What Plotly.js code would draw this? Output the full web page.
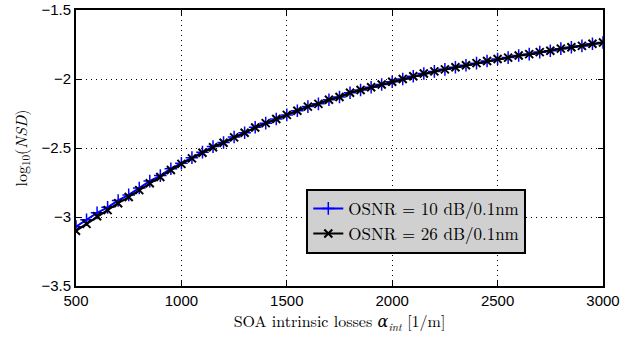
<!DOCTYPE html>
<html>
<head>
<meta charset="utf-8">
<script src="https://cdn.plot.ly/plotly-3.0.1.min.js"></script>
<style>html,body{margin:0;padding:0;background:#fff;}#chart{width:622px;height:341px;}</style>
</head>
<body>
<div id="chart"></div>
<script>
var alphaInt = [500,550,600,650,700,750,800,850,900,950,1000,1050,1100,1150,1200,1250,1300,1350,1400,1450,1500,1550,1600,1650,1700,1750,1800,1850,1900,1950,2000,2050,2100,2150,2200,2250,2300,2350,2400,2450,2500,2550,2600,2650,2700,2750,2800,2850,2900,2950,3000];
var nsdOsnr10 = [-3.07,-3.02,-2.97,-2.93,-2.88,-2.84,-2.79,-2.74,-2.70,-2.65,-2.61,-2.57,-2.53,-2.49,-2.46,-2.42,-2.39,-2.35,-2.32,-2.29,-2.26,-2.23,-2.20,-2.18,-2.15,-2.13,-2.10,-2.08,-2.06,-2.04,-2.02,-2.00,-1.98,-1.96,-1.945,-1.93,-1.915,-1.90,-1.885,-1.87,-1.855,-1.845,-1.83,-1.82,-1.805,-1.795,-1.78,-1.77,-1.76,-1.745,-1.735];
var nsdOsnr26 = [-3.10,-3.05,-2.995,-2.95,-2.90,-2.855,-2.805,-2.755,-2.71,-2.66,-2.615,-2.575,-2.535,-2.495,-2.462,-2.423,-2.39,-2.352,-2.32,-2.29,-2.26,-2.23,-2.20,-2.18,-2.15,-2.13,-2.10,-2.08,-2.06,-2.04,-2.02,-2.00,-1.98,-1.96,-1.945,-1.93,-1.915,-1.90,-1.885,-1.87,-1.855,-1.845,-1.83,-1.82,-1.805,-1.795,-1.78,-1.77,-1.76,-1.745,-1.735];
var seriesNames = ['OSNR = 10 dB/0.1nm', 'OSNR = 26 dB/0.1nm'];
var xTicks = [500,1000,1500,2000,2500,3000];
var yTicks = [-3.5,-3,-2.5,-2,-1.5];

var traces = [
  {x: alphaInt, y: nsdOsnr10, name: seriesNames[0], mode: 'lines+markers',
   line: {color: '#0000ff', width: 2},
   marker: {symbol: 'cross-thin', size: 9, line: {color: '#0000ff', width: 1.5}}},
  {x: alphaInt, y: nsdOsnr26, name: seriesNames[1], mode: 'lines+markers',
   line: {color: '#000000', width: 2},
   marker: {symbol: 'x-thin', size: 8, line: {color: '#000000', width: 2}}}
];

var serif = 'Latin Modern Roman, DejaVu Serif, Liberation Serif, serif';
var axisCommon = {
  showline: true, linecolor: '#000', linewidth: 2, mirror: 'allticks',
  ticks: 'inside', ticklen: 5, tickwidth: 1, tickcolor: '#000',
  showgrid: true, gridcolor: '#000', gridwidth: 1, griddash: '1px,4px',
  zeroline: false,
  tickfont: {family: 'Liberation Sans, Arial, sans-serif', size: 15, color: '#000'}
};

var layout = {
  width: 622, height: 341,
  margin: {l: 76, r: 19, t: 10, b: 55},
  paper_bgcolor: '#fff', plot_bgcolor: '#fff',
  showlegend: true,
  xaxis: Object.assign({}, axisCommon, {
    range: [500, 3000], tickvals: xTicks,
    title: {text: 'SOA intrinsic losses <i>α<sub>int</sub></i> [1/m]', standoff: 8,
            font: {family: serif, size: 16, color: '#000'}}
  }),
  yaxis: Object.assign({}, axisCommon, {
    range: [-3.5, -1.5], tickvals: yTicks, tickformat: '.1~f',
    title: {text: 'log<sub>10</sub>(<i>NSD</i>)', standoff: 10,
            font: {family: serif, size: 16, color: '#000'}}
  }),
  legend: {
    x: 0.437, y: 0.352, xanchor: 'left', yanchor: 'top',
    bgcolor: '#d0d0d0', bordercolor: '#000', borderwidth: 2,
    font: {family: serif, size: 17, color: '#000'},
    tracegroupgap: 4
  }
};

Plotly.newPlot('chart', traces, layout, {displayModeBar: false, staticPlot: true});
</script>
</body>
</html>
